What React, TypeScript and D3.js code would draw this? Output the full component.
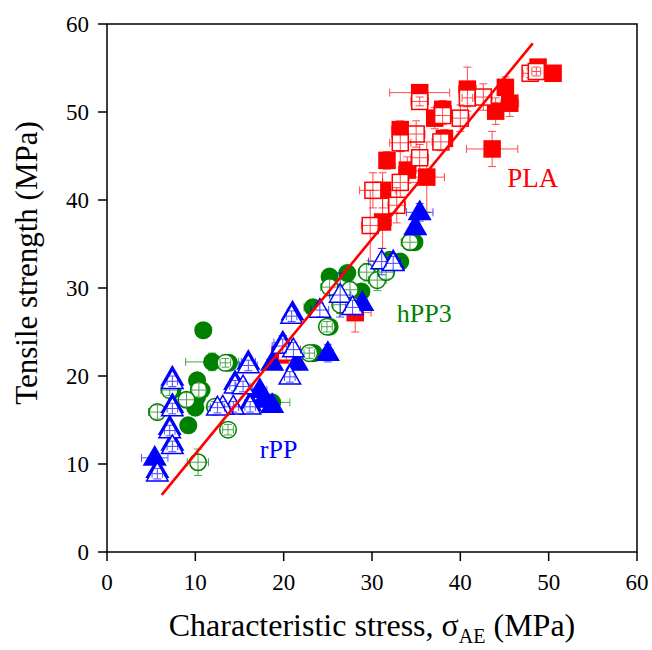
import React from "react";
import * as d3 from "d3";

// [x, y, xErr, yErr]
const plaFilled = [
  [35.4, 52.2, 3.4, 0.5], [40.8, 52.6, 1.0, 2.5], [45.1, 52.8, 0.8, 1.2],
  [45.6, 51.0, 1.0, 1.5], [44.0, 50.1, 0.6, 1.5], [38.0, 50.3, 1.0, 1.0],
  [37.1, 49.3, 0.8, 1.2], [38.2, 47.0, 0.6, 1.0], [43.6, 45.8, 2.9, 2.0],
  [33.2, 48.0, 1.0, 1.0], [31.7, 44.5, 0.8, 1.0], [34.0, 43.4, 1.0, 1.5],
  [36.2, 42.6, 2.0, 4.0], [31.2, 41.1, 1.5, 2.0], [31.2, 37.5, 1.0, 3.0],
  [48.8, 55.1, 0.5, 0.5], [50.5, 54.4, 0.5, 0.5], [28.1, 27.2, 1.8, 2.2],
  [19.6, 22.4, 1.0, 0.8],
];
const plaOpen = [
  [35.4, 51.2, 1.0, 0.5], [40.8, 51.6, 0.6, 1.0], [42.6, 51.7, 1.0, 1.5],
  [38.0, 49.6, 1.0, 1.0], [40.0, 49.3, 1.0, 1.5], [37.8, 46.6, 1.0, 1.0],
  [35.0, 47.5, 1.0, 1.5], [33.2, 46.5, 1.2, 1.0], [35.4, 44.8, 1.0, 1.5],
  [33.2, 42.0, 2.0, 3.5], [30.1, 41.1, 1.5, 2.0], [32.8, 39.4, 1.0, 2.0],
  [29.8, 37.1, 1.0, 4.0], [47.9, 54.4, 0.8, 0.5], [48.6, 54.6, 0.5, 0.5],
  [20.3, 22.7, 1.2, 1.0],
];

const hppFilled = [
  [34.8, 35.2, 0.5, 0.5], [32.0, 33.2, 0.6, 0.8], [33.2, 33.0, 0.8, 0.8],
  [25.2, 31.3, 0.8, 0.8], [27.2, 31.7, 0.6, 0.8], [23.3, 27.8, 1.0, 0.8],
  [25.2, 25.6, 0.6, 0.8], [23.4, 22.6, 0.6, 0.8], [10.9, 25.2, 0.5, 0.5],
  [11.9, 21.6, 3.0, 1.0], [13.8, 21.5, 0.6, 0.5], [10.2, 19.5, 0.5, 0.5],
  [10.7, 18.4, 0.6, 0.8], [10.2, 17.6, 0.5, 0.5], [10.0, 16.4, 0.5, 0.5],
  [9.2, 14.4, 0.5, 0.5], [7.4, 18.4, 0.6, 0.8], [18.7, 17.0, 2.0, 0.5],
  [28.8, 29.6, 0.5, 0.5],
];
const hppOpen = [
  [34.3, 35.2, 1.0, 0.8], [29.4, 31.8, 0.8, 1.0], [30.6, 30.9, 1.0, 1.2],
  [25.2, 30.1, 1.0, 1.0], [26.4, 28.1, 0.8, 1.0], [27.5, 29.8, 1.0, 1.0],
  [31.6, 31.8, 0.8, 0.8], [24.9, 25.6, 0.6, 0.6], [22.9, 22.6, 0.6, 0.6],
  [13.4, 21.5, 0.6, 0.5], [10.4, 18.4, 0.8, 0.8], [7.1, 18.4, 1.0, 0.6],
  [5.7, 15.9, 1.0, 0.8], [9.0, 17.3, 1.2, 0.8], [12.2, 16.5, 0.8, 0.6],
  [13.7, 13.9, 0.6, 0.6], [10.3, 10.2, 1.2, 1.5],
];

const rppFilled = [
  [35.4, 38.6, 1.5, 1.0], [34.9, 36.9, 0.6, 0.6], [32.4, 33.0, 0.8, 0.8],
  [28.9, 28.3, 0.6, 0.6], [25.0, 22.6, 0.6, 1.0], [21.0, 27.2, 0.6, 0.6],
  [19.9, 23.8, 1.0, 0.8], [21.5, 21.5, 0.6, 0.8], [16.0, 21.6, 0.8, 0.6],
  [18.7, 21.5, 0.6, 0.6], [14.5, 19.3, 0.6, 0.6], [17.3, 18.4, 0.8, 0.6],
  [17.7, 17.3, 0.6, 0.8], [18.7, 16.7, 0.6, 0.8], [16.2, 16.9, 0.6, 0.6],
  [7.4, 19.8, 0.5, 0.6], [7.4, 16.7, 0.5, 0.6], [7.1, 14.2, 0.5, 0.6],
  [7.4, 12.4, 0.5, 0.6], [5.4, 10.7, 1.5, 0.5], [5.7, 9.3, 0.5, 0.5],
];
const rppOpen = [
  [31.1, 33.0, 1.5, 1.5], [32.4, 32.8, 0.8, 0.8], [26.4, 29.2, 1.2, 2.5],
  [27.8, 27.8, 0.8, 0.8], [24.1, 27.5, 1.0, 0.8], [20.9, 26.8, 0.6, 0.6],
  [19.9, 23.4, 1.2, 0.8], [21.1, 23.0, 0.8, 0.8], [20.7, 19.9, 0.6, 0.6],
  [16.0, 21.2, 1.0, 0.6], [14.5, 18.9, 0.6, 0.6], [15.4, 18.8, 0.8, 0.6],
  [16.2, 16.5, 0.6, 0.6], [14.3, 16.5, 0.6, 0.6], [13.1, 16.5, 0.8, 0.6],
  [12.5, 16.4, 0.8, 0.6], [7.4, 19.4, 0.6, 0.6], [7.4, 16.3, 0.6, 0.6],
  [7.1, 13.8, 0.6, 0.6], [7.4, 12.0, 0.6, 0.6], [5.7, 8.9, 0.6, 0.6],
];

const fitX = [6.2, 48.2];
const fitY = [6.5, 57.8];

const xTicks = [0, 10, 20, 30, 40, 50, 60];
const yTicks = [0, 10, 20, 30, 40, 50, 60];

const RED = "#ff0000";
const GREEN = "#008000";
const BLUE = "#0000ff";
const FONT = "Liberation Serif";

const W = 652;
const H = 650;
const m = { left: 107, right: 15, top: 24, bottom: 98 };

const x = d3.scaleLinear().domain([0, 60]).range([m.left, W - m.right]);
const y = d3.scaleLinear().domain([0, 60]).range([H - m.bottom, m.top]);

const tri = d3.symbol().type(d3.symbolTriangle).size(200)();

function Marker({ shape, cx, cy, color, filled }) {
  const fill = filled ? color : "white";
  if (shape === "square")
    return <rect x={cx - 8} y={cy - 8} width={16} height={16} fill={fill} stroke={color} strokeWidth={1.5} />;
  if (shape === "circle")
    return <circle cx={cx} cy={cy} r={8.3} fill={fill} stroke={color} strokeWidth={1.5} />;
  return <path d={tri} transform={`translate(${cx},${cy + 1})`} fill={fill} stroke={color} strokeWidth={1.5} />;
}

function Points({ data, shape, color, filled }) {
  return (
    <g>
      {data.map((d, i) => {
        const cx = x(d[0]);
        const cy = y(d[1]);
        const x0 = x(d[0] - d[2]);
        const x1 = x(d[0] + d[2]);
        const y0 = y(d[1] - d[3]);
        const y1 = y(d[1] + d[3]);
        return (
          <g key={i}>
            <Marker shape={shape} cx={cx} cy={cy} color={color} filled={filled} />
            <g stroke={color} strokeWidth={1} opacity={0.7}>
              <line x1={x0} x2={x1} y1={cy} y2={cy} />
              <line x1={x0} x2={x0} y1={cy - 4} y2={cy + 4} />
              <line x1={x1} x2={x1} y1={cy - 4} y2={cy + 4} />
              <line x1={cx} x2={cx} y1={y0} y2={y1} />
              <line x1={cx - 4} x2={cx + 4} y1={y0} y2={y0} />
              <line x1={cx - 4} x2={cx + 4} y1={y1} y2={y1} />
            </g>
          </g>
        );
      })}
    </g>
  );
}

export default function App() {
  const fitLine = d3.line()(fitX.map((v, i) => [x(v), y(fitY[i])]));
  return (
    <svg width={W} height={H} style={{ position: "absolute", left: 0, top: 0, background: "white", fontFamily: FONT }}>
      <rect x={0} y={0} width={W} height={H} fill="white" />

      <Points data={plaFilled} shape="square" color={RED} filled={true} />
      <Points data={plaOpen} shape="square" color={RED} filled={false} />
      <Points data={hppFilled} shape="circle" color={GREEN} filled={true} />
      <Points data={hppOpen} shape="circle" color={GREEN} filled={false} />
      <Points data={rppFilled} shape="triangle" color={BLUE} filled={true} />
      <Points data={rppOpen} shape="triangle" color={BLUE} filled={false} />

      <path d={fitLine} fill="none" stroke={RED} strokeWidth={2.6} />

      <rect x={m.left} y={m.top} width={W - m.left - m.right} height={H - m.top - m.bottom} fill="none" stroke="black" strokeWidth={1.5} />

      {xTicks.map((t) => (
        <g key={"x" + t}>
          <line x1={x(t)} x2={x(t)} y1={y(0)} y2={y(0) + 9} stroke="black" strokeWidth={1.5} />
          <text x={x(t)} y={590} fontSize={23} textAnchor="middle">{t}</text>
        </g>
      ))}
      {yTicks.map((t) => (
        <g key={"y" + t}>
          <line x1={x(0) - 9} x2={x(0)} y1={y(t)} y2={y(t)} stroke="black" strokeWidth={1.5} />
          <text x={89} y={y(t) + 8} fontSize={23} textAnchor="end">{t}</text>
        </g>
      ))}

      <text x={372} y={636} fontSize={32} textAnchor="middle">
        Characteristic stress, σ<tspan fontSize={20} dy={7}>AE</tspan>
        <tspan dy={-7}> (MPa)</tspan>
      </text>
      <text transform={`translate(37,263) rotate(-90)`} fontSize={31} textAnchor="middle">
        Tensile strength (MPa)
      </text>

      <text x={x(45.3)} y={y(41.5)} fontSize={27} fill={RED}>PLA</text>
      <text x={x(32.8)} y={y(26.1)} fontSize={26} fill={GREEN}>hPP3</text>
      <text x={x(17.3)} y={y(10.7)} fontSize={26} fill={BLUE}>rPP</text>
    </svg>
  );
}
